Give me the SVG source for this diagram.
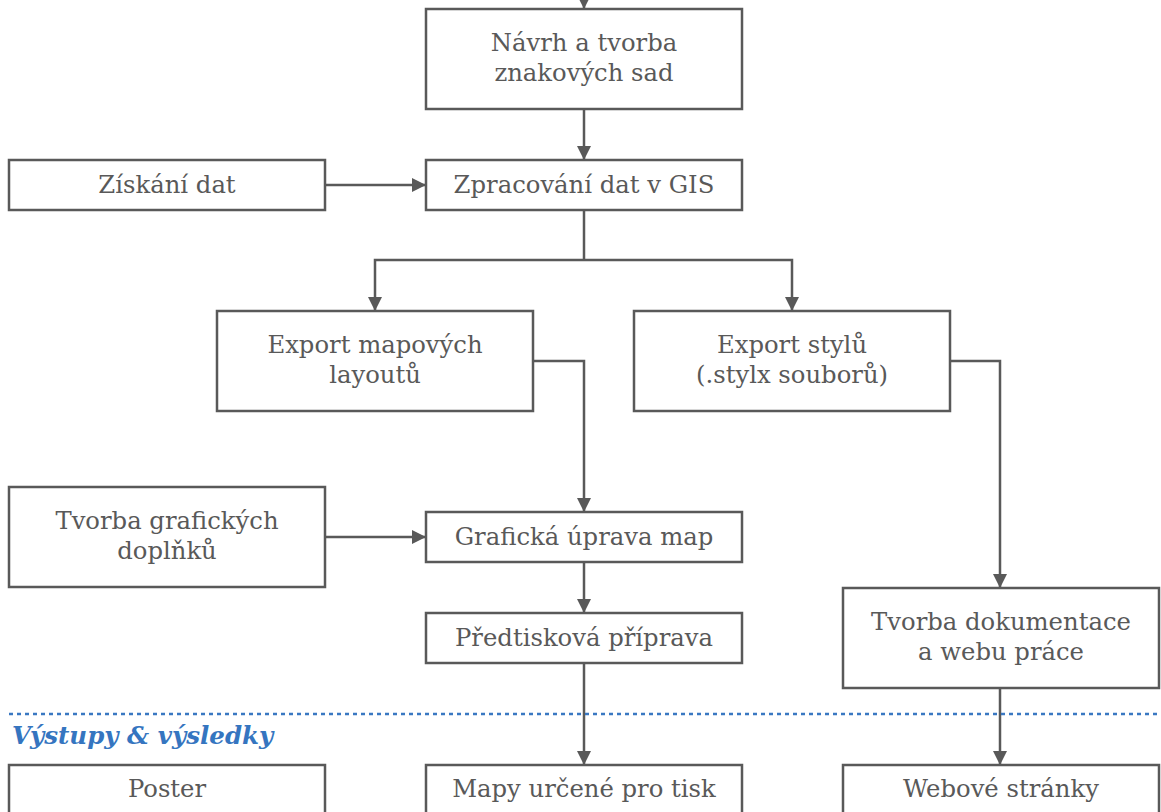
<svg xmlns="http://www.w3.org/2000/svg" width="1161" height="812" viewBox="0 0 1161 812">
<defs>
<marker id="ah" viewBox="0 0 14 14" refX="14" refY="7" markerWidth="14" markerHeight="14" markerUnits="userSpaceOnUse" orient="auto">
<path d="M0,0 L14,7 L0,14 Z" fill="#595959"/>
</marker>
<style>
.box{fill:#fff;stroke:#595959;stroke-width:2.5}
.t{font-family:"DejaVu Serif",serif;font-size:24.3px;fill:#595959;text-anchor:middle}
.c{fill:none;stroke:#595959;stroke-width:2.5;marker-end:url(#ah)}
.cl{fill:none;stroke:#595959;stroke-width:2.5}
</style>
</defs>
<rect width="1161" height="812" fill="#fff"/>
<g id="connectors">
<path class="c" d="M584,-2 V9"/>
<path class="c" d="M584,109 V160"/>
<path class="c" d="M325,185 H426"/>
<path class="cl" d="M584,210 V260"/>
<path class="c" d="M584,260 H375 V311"/>
<path class="c" d="M584,260 H792 V311"/>
<path class="c" d="M533,361 H584 V512"/>
<path class="c" d="M950,361 H1000 V588"/>
<path class="c" d="M325,537 H426"/>
<path class="c" d="M584,562 V613"/>
<path class="c" d="M584,663 V765"/>
<path class="c" d="M1000,688 V765"/>
</g>
<g id="separator">
<line x1="9" y1="714" x2="1161" y2="714" stroke="#3a78c2" stroke-width="2.5" stroke-dasharray="4 4"/>
<text x="12" y="744" font-family="DejaVu Serif,serif" font-size="24.5" font-weight="bold" font-style="italic" fill="#3575c0">Výstupy &amp; výsledky</text>
</g>
<g id="n-navrh"><rect class="box" x="426" y="9" width="316" height="100"/><text class="t" x="584" y="51">Návrh a tvorba</text><text class="t" x="584" y="81">znakových sad</text></g>
<g id="n-ziskani"><rect class="box" x="9" y="160" width="316" height="50"/><text class="t" x="167" y="193">Získání dat</text></g>
<g id="n-zpracovani"><rect class="box" x="426" y="160" width="316" height="50"/><text class="t" x="584" y="193">Zpracování dat v GIS</text></g>
<g id="n-export-layout"><rect class="box" x="217" y="311" width="316" height="100"/><text class="t" x="375" y="353">Export mapových</text><text class="t" x="375" y="383">layoutů</text></g>
<g id="n-export-styl"><rect class="box" x="634" y="311" width="316" height="100"/><text class="t" x="792" y="353">Export stylů</text><text class="t" x="792" y="383">(.stylx souborů)</text></g>
<g id="n-doplnky"><rect class="box" x="9" y="487" width="316" height="100"/><text class="t" x="167" y="529">Tvorba grafických</text><text class="t" x="167" y="559">doplňků</text></g>
<g id="n-uprava"><rect class="box" x="426" y="512" width="316" height="50"/><text class="t" x="584" y="545">Grafická úprava map</text></g>
<g id="n-predtisk"><rect class="box" x="426" y="613" width="316" height="50"/><text class="t" x="584" y="646">Předtisková příprava</text></g>
<g id="n-dokumentace"><rect class="box" x="843" y="588" width="316" height="100"/><text class="t" x="1001" y="630">Tvorba dokumentace</text><text class="t" x="1001" y="660">a webu práce</text></g>
<g id="n-poster"><rect class="box" x="9" y="765" width="316" height="60"/><text class="t" x="167" y="797">Poster</text></g>
<g id="n-mapy"><rect class="box" x="426" y="765" width="316" height="60"/><text class="t" x="584" y="797">Mapy určené pro tisk</text></g>
<g id="n-web"><rect class="box" x="843" y="765" width="316" height="60"/><text class="t" x="1001" y="797">Webové stránky</text></g>
</svg>
